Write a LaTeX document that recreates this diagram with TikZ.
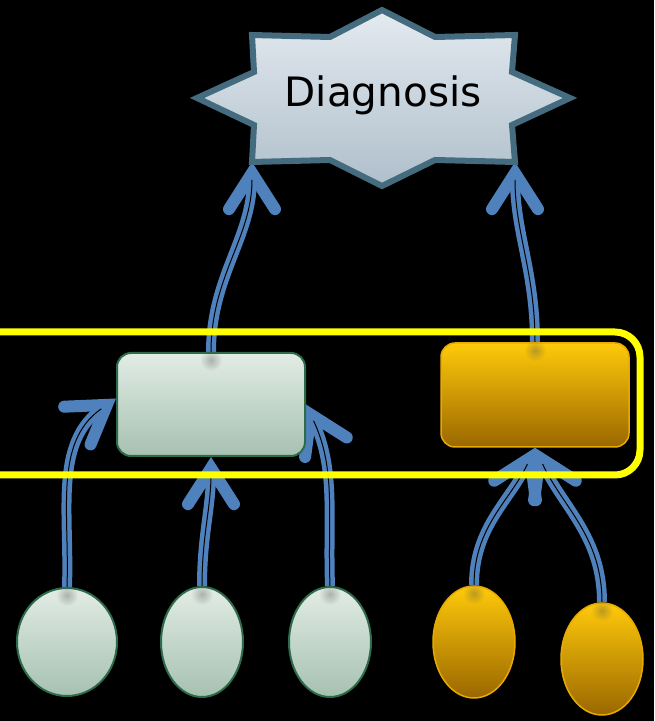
\documentclass[tikz,border=0pt]{standalone}
\usepackage{fontspec}
\newfontfamily\labelfont{DejaVu Sans}
\usetikzlibrary{arrows.meta,shapes.geometric,fadings}
\definecolor{linkblue}{HTML}{4F81BD}
\definecolor{greenedge}{HTML}{2E6B4A}
\definecolor{greentop}{HTML}{E2ECE5}
\definecolor{greenbot}{HTML}{A6C1B1}
\definecolor{goldedge}{HTML}{E8AA00}
\definecolor{goldtop}{HTML}{FFCA0A}
\definecolor{goldbot}{HTML}{9A6700}
\definecolor{staredge}{HTML}{456B7F}
\definecolor{startop}{HTML}{E4EAF0}
\definecolor{starbot}{HTML}{AFBFCB}
\definecolor{frameyellow}{HTML}{FFFF00}
\tikzfading[name=softspot, inner color=transparent!30, outer color=transparent!100]
\pgfdeclarelayer{back}
\pgfdeclarelayer{links}
\pgfsetlayers{back,links,main}
\begin{document}
\begin{tikzpicture}[x=1pt,y=1pt,
  link/.style={draw=linkblue, line width=10pt,
    -{Straight Barb[length=36pt,width=46pt,line width=12pt,line cap=round,line join=miter]},
    postaction={draw=black, line width=1pt, arrows=-, shorten >=18pt}},
  greenbox/.style={draw=greenedge, line width=2pt, rounded corners=14pt,
    top color=greentop, bottom color=greenbot,
    minimum width=188pt, minimum height=103pt, inner sep=0pt},
  goldbox/.style={draw=goldedge, line width=1.5pt, rounded corners=14pt,
    top color=goldtop, bottom color=goldbot,
    minimum width=188pt, minimum height=104pt, inner sep=0pt},
  greenball/.style={ellipse, draw=greenedge, line width=2pt,
    top color=greentop, bottom color=greenbot, inner sep=0pt},
  goldball/.style={ellipse, draw=goldedge, line width=1.5pt,
    top color=goldtop, bottom color=goldbot, inner sep=0pt},
  spot/.style={black!70, opacity=0.5, path fading=softspot}]

\begin{pgfonlayer}{back}
  \fill[black] (0,0) rectangle (654,721);
\end{pgfonlayer}
\useasboundingbox (0,0) rectangle (654,721);

% eight-pointed star
\path[draw=staredge, line width=6pt, line join=miter, top color=startop, bottom color=starbot]
  (382,711) -- (435,684) -- (515,686) -- (512,649) -- (570,623) -- (512,596)
  -- (515,559) -- (435,561) -- (382,535) -- (330,561) -- (252,559) -- (254,596)
  -- (197,623) -- (254,649) -- (252,686) -- (330,684) -- cycle;
\node[font=\labelfont\fontsize{40.5}{48}\selectfont, inner sep=0pt] (diag) at (383,626) {Diagnosis};
\coordinate (starBL) at (252,559);
\coordinate (starBR) at (515,559);

% middle boxes
\node[greenbox] (lrect) at (211,316.5) {};
\node[goldbox] (rrect) at (535,326) {};

% bottom ellipses
\node[greenball, minimum width=100pt, minimum height=108pt] (e1) at (67,79) {};
\node[greenball, minimum width=82pt, minimum height=110pt] (e2) at (202,79) {};
\node[greenball, minimum width=82pt, minimum height=110pt] (e3) at (330,79) {};
\node[goldball, minimum width=82pt, minimum height=112pt] (e4) at (474,79) {};
\node[goldball, minimum width=82pt, minimum height=112pt] (e5) at (602,62) {};

% soft shadows where links leave the shapes
\foreach \n in {lrect,rrect,e1,e2,e3,e4,e5}
  \fill[spot] ([yshift=-8pt]\n.north) circle (11pt);

% links
\begin{pgfonlayer}{links}
  \draw[link] (lrect.north) to[out=90,in=-90] (starBL);
  \draw[link] (rrect.north) to[out=90,in=-90] (starBR);
  \draw[link] (e1.north) to[out=88,in=215] ([yshift=6pt]lrect.west);
  \draw[link] (e2.north) to[out=90,in=-90] (lrect.south);
  \draw[link] (e3.north) to[out=92,in=-65] (lrect.east);
  \draw[link] (e4.north) to[out=90,in=-115] (rrect.south);
  \draw[link] (e5.north) to[out=90,in=-65] (rrect.south);
\end{pgfonlayer}

% highlight frame around the middle row
\draw[frameyellow, line width=7pt, rounded corners=25pt] (-40,246) rectangle (640,389);
\end{tikzpicture}
\end{document}
